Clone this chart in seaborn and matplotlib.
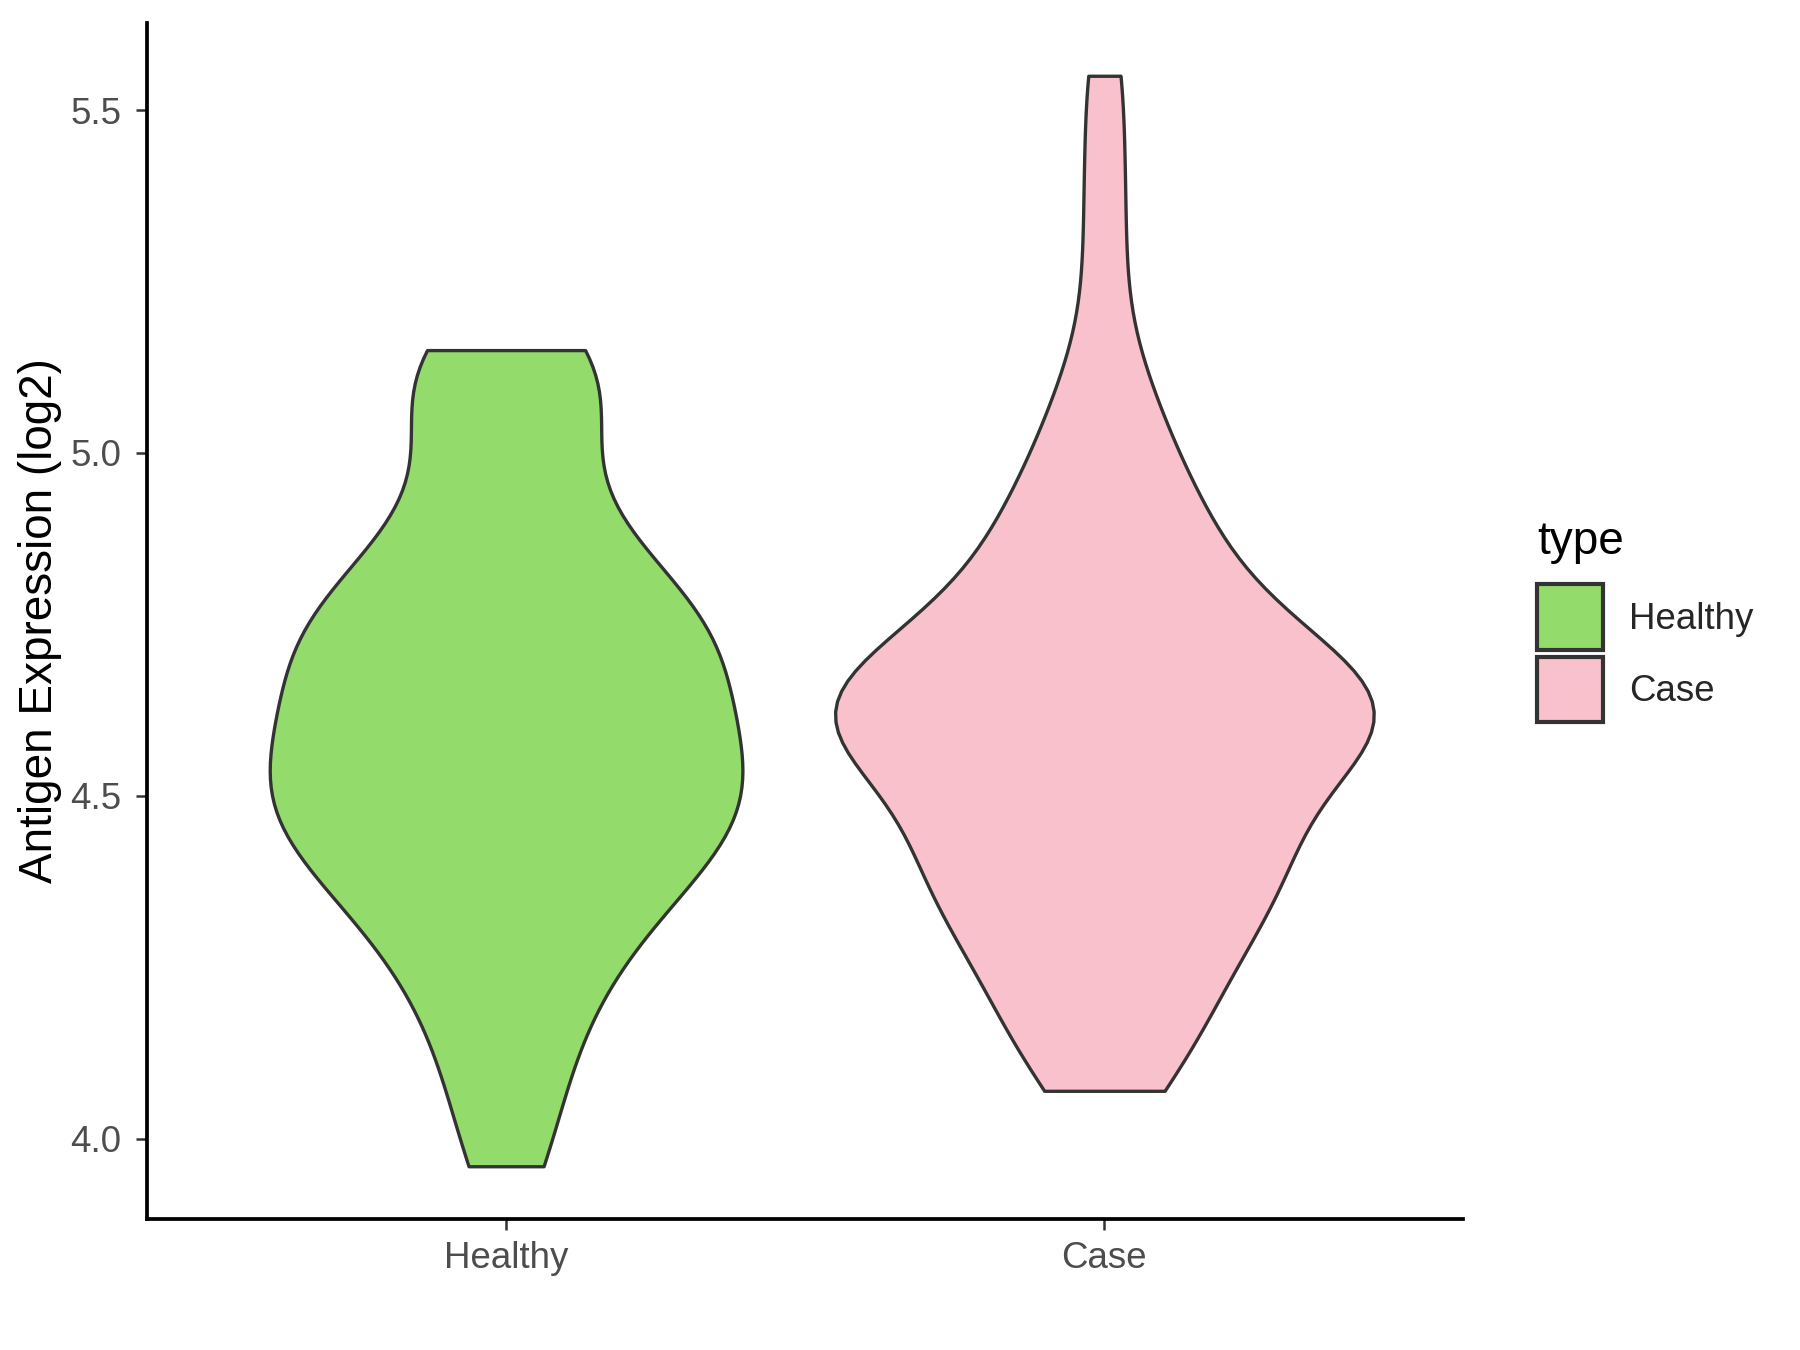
import numpy as np
import pandas as pd
import matplotlib
matplotlib.use("Agg")
import matplotlib.pyplot as plt
from matplotlib.patches import Patch
import seaborn as sns

# expression values (log2)
healthy = [3.96, 4.07, 4.15, 4.22, 4.27, 4.31, 4.35, 4.38, 4.41, 4.43, 4.45, 4.47,
           4.49, 4.51, 4.53, 4.55, 4.57, 4.59, 4.62, 4.65, 4.68, 4.70, 4.72, 4.74,
           4.76, 4.78, 4.81, 4.85, 4.90, 4.96, 5.06, 5.10, 5.13, 5.15]
case = [4.07, 4.09, 4.12, 4.16, 4.19, 4.21, 4.24, 4.26, 4.29, 4.31, 4.325, 4.34,
        4.36, 4.375, 4.39, 4.405, 4.415, 4.43, 4.44, 4.465, 4.48, 4.49, 4.515,
        4.54, 4.555, 4.565, 4.575, 4.585, 4.595, 4.605, 4.61, 4.615, 4.62, 4.625,
        4.63, 4.635, 4.645, 4.655, 4.665, 4.68, 4.69, 4.705, 4.72, 4.73, 4.745,
        4.76, 4.79, 4.81, 4.835, 4.86, 4.885, 4.91, 4.935, 4.97, 5.02, 5.07, 5.12,
        5.26, 5.40, 5.55]
groups = ["Healthy", "Case"]
colors = {"Healthy": "#93DC6C", "Case": "#F8C1CB"}
yticks = [4.0, 4.5, 5.0, 5.5]

# per-group kernel smoothing and violin width (area-scaled like the original)
bw_adjust = {"Healthy": 0.7, "Case": 0.72}
widths = {"Healthy": 0.79, "Case": 0.9}

df = pd.DataFrame({
    "value": healthy + case,
    "type": ["Healthy"] * len(healthy) + ["Case"] * len(case),
})

sns.set_style("white")
plt.rcParams["font.family"] = ["Liberation Sans", "DejaVu Sans"]

fig = plt.figure(figsize=(6, 4.5), dpi=300)
ax = fig.add_axes([0.0817, 0.097, 0.7313, 0.886])

for g in groups:
    sns.violinplot(data=df[df["type"] == g], x="type", y="value", hue="type",
                   order=groups, hue_order=groups, palette=colors, saturation=1,
                   cut=0, inner=None, width=widths[g], bw_adjust=bw_adjust[g],
                   linewidth=0.8, linecolor="#333333", legend=False, ax=ax)

ax.set_xlim(-0.6, 1.6)
ax.set_ylim(3.883, 5.627)
ax.set_yticks(yticks)
ax.set_yticklabels([f"{v:.1f}" for v in yticks])
ax.set_xlabel("")
ax.set_ylabel("Antigen Expression (log2)", fontsize=11, color="black", labelpad=2)
ax.tick_params(axis="both", labelsize=8.8, labelcolor="#4D4D4D", color="#333333",
               length=2.7, width=0.6, direction="out", left=True, bottom=True)
ax.tick_params(axis="x", pad=2.5)
for side in ["top", "right"]:
    ax.spines[side].set_visible(False)
for side in ["left", "bottom"]:
    ax.spines[side].set_color("black")
    ax.spines[side].set_linewidth(0.9)

handles = [Patch(facecolor=colors[g], edgecolor="#333333", linewidth=1.0, label=g)
           for g in groups]
leg = ax.legend(handles=handles, loc="center left", bbox_to_anchor=(1.031, 0.5),
                title="type", frameon=False, fontsize=8.8, title_fontsize=11,
                handlelength=1.8, handleheight=2.37, labelspacing=0.19,
                handletextpad=0.7, alignment="left")
leg.get_title().set_color("black")
leg._legend_box.sep = 5

fig.savefig("out.png", dpi=300)
